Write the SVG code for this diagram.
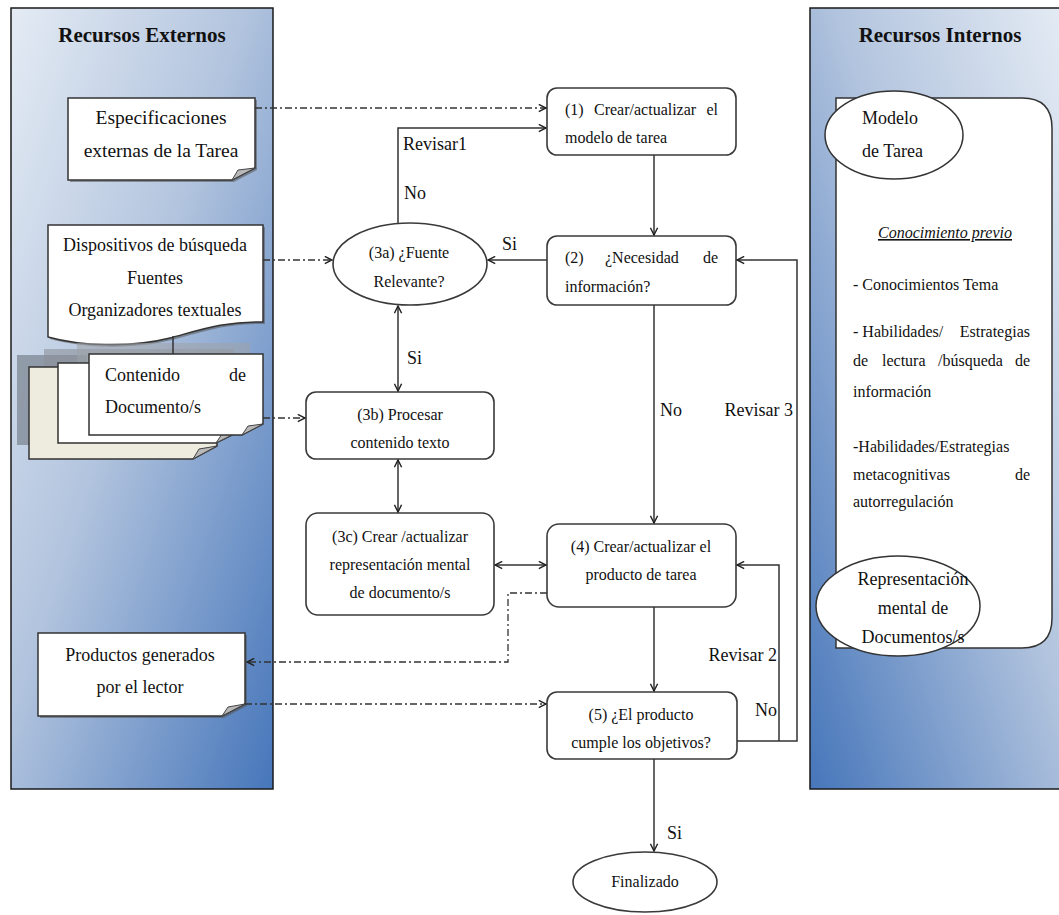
<svg xmlns="http://www.w3.org/2000/svg" width="1059" height="915" viewBox="0 0 1059 915">
<defs>
<linearGradient id="gL" x1="0" y1="0" x2="1" y2="1">
<stop offset="0" stop-color="#e4ebf4"/>
<stop offset="0.45" stop-color="#b2c4de"/>
<stop offset="1" stop-color="#4676ba"/>
</linearGradient>
<linearGradient id="gR" x1="1" y1="0" x2="0" y2="1">
<stop offset="0" stop-color="#e4ebf4"/>
<stop offset="0.45" stop-color="#b2c4de"/>
<stop offset="1" stop-color="#4676ba"/>
</linearGradient>
<marker id="arr" viewBox="0 0 10 10" refX="9" refY="5" markerWidth="9" markerHeight="9" markerUnits="userSpaceOnUse" orient="auto-start-reverse">
<path d="M1,1 L9,5 L1,9" fill="none" stroke="#222" stroke-width="1.6"/>
</marker>
<style>
.panel{stroke:#1a1a1a;stroke-width:1.5}
.doc{fill:#fff;stroke:#333;stroke-width:1.5}
.shadow{fill:#555;opacity:0.55}
.fold{fill:#b8b8b8;stroke:#444;stroke-width:1}
.box{fill:#fff;stroke:#3a3a3a;stroke-width:1.6}
.t{font-family:"Liberation Serif","Times New Roman",serif;fill:#111}
.title{font-size:21px;font-weight:bold}
.dt{font-size:18px}
.dt2{font-size:19.5px}
.nt{font-size:16px}
.lb{font-size:18px}
.rt{font-size:16px}
.c{text-anchor:middle}
.r{text-anchor:end}
.solid{fill:none;stroke:#333;stroke-width:1.5}
.dd{fill:none;stroke:#333;stroke-width:1.3;stroke-dasharray:7 3 2 3}
</style>
</defs>

<g id="panel-externos">
<rect class="panel" x="11" y="8" width="262" height="781" fill="url(#gL)"/>
<text class="t title c" x="142" y="42">Recursos Externos</text>
</g>

<g id="panel-internos">
<rect class="panel" x="810" y="8" width="255" height="781" fill="url(#gR)"/>
<text class="t title c" x="940" y="42">Recursos Internos</text>
</g>

<g id="conocimiento-previo">
<path d="M836,98 H1022 Q1052,98 1052,128 V618 Q1052,648 1022,648 H836 Z" fill="#fff" stroke="#333" stroke-width="1.5"/>
<text class="t rt c" x="945" y="238" font-style="italic" text-decoration="underline">Conocimiento previo</text>
<text class="t rt" x="853" y="290">- Conocimientos Tema</text>
<text class="t rt" y="337"><tspan x="853">- Habilidades/</tspan><tspan x="1030" text-anchor="end">Estrategias</tspan></text>
<text class="t rt" y="366"><tspan x="853">de</tspan><tspan x="882">lectura</tspan><tspan x="938">/búsqueda</tspan><tspan x="1030" text-anchor="end">de</tspan></text>
<text class="t rt" x="853" y="397">información</text>
<text class="t rt" x="853" y="452">-Habilidades/Estrategias</text>
<text class="t rt" y="480"><tspan x="853">metacognitivas</tspan><tspan x="1030" text-anchor="end">de</tspan></text>
<text class="t rt" x="853" y="507">autorregulación</text>
</g>

<g id="modelo-tarea">
<ellipse cx="894" cy="135" rx="69" ry="44" fill="#fff" stroke="#333" stroke-width="1.5"/>
<text class="t dt" x="862" y="124">Modelo</text>
<text class="t dt" x="862" y="157">de Tarea</text>
</g>

<g id="representacion-mental">
<ellipse cx="898" cy="606" rx="82" ry="50" fill="#fff" stroke="#333" stroke-width="1.5"/>
<text class="t dt c" x="913" y="585">Representación</text>
<text class="t dt c" x="913" y="614">mental de</text>
<text class="t dt c" x="913" y="643">Documentos/s</text>
</g>

<g id="especificaciones">
<path class="shadow" d="M70,100 H257 V170 L234,182 H70 Z"/>
<path class="doc" d="M68,98 H255 V168 L232,180 H68 Z"/>
<path class="fold" d="M232,180 L238,170 L255,168 Z"/>
<text class="t dt2 c" x="161" y="124">Especificaciones</text>
<text class="t dt2 c" x="161" y="157">externas de la Tarea</text>
</g>

<g id="dispositivos">
<path class="shadow" d="M50,227 H265 V324 C227,323 202,332 172,340 C132,350 82,348 50,339 Z"/>
<path class="doc" d="M48,225 H263 V322 C225,321 200,330 170,338 C130,348 80,346 48,337 Z"/>
<text class="t dt c" x="155" y="251">Dispositivos de búsqueda</text>
<text class="t dt c" x="155" y="284">Fuentes</text>
<text class="t dt c" x="155" y="316">Organizadores textuales</text>
</g>

<g id="contenido-documentos">
<rect x="17" y="355" width="70" height="90" fill="#7e8793" opacity="0.75"/>
<rect x="44" y="349" width="190" height="80" fill="#8c9199" opacity="0.6"/>
<rect x="77" y="343" width="173" height="77" fill="#9ea2a7" opacity="0.55"/>
<path d="M29,367 H217 V446 L193,459 H29 Z" fill="#eeebdf" stroke="#333" stroke-width="1.5"/>
<path class="fold" d="M193,459 L199,449 L217,446 Z"/>
<path class="doc" d="M58,363 H238 V432 L216,443 H58 Z"/>
<path class="fold" d="M216,443 L222,434 L238,432 Z"/>
<path class="doc" d="M89,354 H263 V424 L242,435 H89 Z"/>
<path class="fold" d="M242,435 L248,426 L263,424 Z"/>
<text class="t dt" y="381"><tspan x="105">Contenido</tspan><tspan x="246" text-anchor="end">de</tspan></text>
<text class="t dt" x="105" y="413">Documento/s</text>
</g>

<g id="productos">
<path class="shadow" d="M40,635 H247 V706 L224,718 H40 Z"/>
<path class="doc" d="M38,633 H245 V704 L222,716 H38 Z"/>
<path class="fold" d="M222,716 L228,707 L245,704 Z"/>
<text class="t dt c" x="140" y="661">Productos generados</text>
<text class="t dt c" x="140" y="693">por el lector</text>
</g>

<g id="n1">
<rect class="box" x="547" y="88" width="189" height="67" rx="10"/>
<text class="t nt" y="115"><tspan x="565">(1)</tspan><tspan x="594">Crear/actualizar</tspan><tspan x="718" text-anchor="end">el</tspan></text>
<text class="t nt" x="565" y="143">modelo de tarea</text>
</g>

<g id="n2">
<rect class="box" x="547" y="236" width="189" height="69" rx="10"/>
<text class="t nt" y="263"><tspan x="565">(2)</tspan><tspan x="605">¿Necesidad</tspan><tspan x="718" text-anchor="end">de</tspan></text>
<text class="t nt" x="565" y="292">información?</text>
</g>

<g id="n3a">
<ellipse cx="410" cy="264" rx="77" ry="41" fill="#fff" stroke="#3a3a3a" stroke-width="1.6"/>
<text class="t nt c" x="409" y="258">(3a) ¿Fuente</text>
<text class="t nt c" x="409" y="287">Relevante?</text>
</g>

<g id="n3b">
<rect class="box" x="306" y="392" width="188" height="67" rx="10"/>
<text class="t nt c" x="400" y="420">(3b) Procesar</text>
<text class="t nt c" x="400" y="448">contenido texto</text>
</g>

<g id="n3c">
<rect class="box" x="306" y="513" width="188" height="102" rx="12"/>
<text class="t nt c" x="400" y="542">(3c) Crear /actualizar</text>
<text class="t nt c" x="400" y="570">representación mental</text>
<text class="t nt c" x="400" y="598">de documento/s</text>
</g>

<g id="n4">
<rect class="box" x="547" y="524" width="189" height="83" rx="12"/>
<text class="t nt c" x="641" y="552">(4) Crear/actualizar el</text>
<text class="t nt c" x="641" y="580">producto de tarea</text>
</g>

<g id="n5">
<rect class="box" x="547" y="692" width="190" height="67" rx="10"/>
<text class="t nt c" x="641" y="720">(5) ¿El producto</text>
<text class="t nt c" x="641" y="748">cumple los objetivos?</text>
</g>

<g id="finalizado">
<ellipse cx="645" cy="882" rx="72" ry="30" fill="#fff" stroke="#3a3a3a" stroke-width="1.6"/>
<text class="t nt c" x="645" y="887">Finalizado</text>
</g>

<g id="connectors">
<path class="dd" d="M255,108 H546" marker-end="url(#arr)"/>
<path class="dd" d="M263,260 H332" marker-end="url(#arr)"/>
<path class="dd" d="M263,418 H305" marker-end="url(#arr)"/>
<path class="dd" d="M547,593 H508 V662 H247" marker-end="url(#arr)"/>
<path class="dd" d="M245,704 H546" marker-end="url(#arr)"/>
<path class="solid" d="M173,336 V354"/>
<path class="solid" d="M654,155 V235" marker-end="url(#arr)"/>
<path class="solid" d="M547,260 H488" marker-end="url(#arr)"/>
<path class="solid" d="M398,224 V128 H546" marker-end="url(#arr)"/>
<path class="solid" d="M398,306 V391" marker-start="url(#arr)" marker-end="url(#arr)"/>
<path class="solid" d="M398,460 V512" marker-start="url(#arr)" marker-end="url(#arr)"/>
<path class="solid" d="M495,565 H546" marker-start="url(#arr)" marker-end="url(#arr)"/>
<path class="solid" d="M654,305 V523" marker-end="url(#arr)"/>
<path class="solid" d="M654,607 V691" marker-end="url(#arr)"/>
<path class="solid" d="M654,759 V851" marker-end="url(#arr)"/>
<path class="solid" d="M737,741 H797 V260 H737" marker-end="url(#arr)"/>
<path class="solid" d="M779,741 V565 H737" marker-end="url(#arr)"/>
<text class="t lb" x="403" y="150">Revisar1</text>
<text class="t lb" x="404" y="199">No</text>
<text class="t lb" x="502" y="250">Si</text>
<text class="t lb" x="407" y="364">Si</text>
<text class="t lb" x="660" y="416">No</text>
<text class="t lb r" x="793" y="416">Revisar 3</text>
<text class="t lb r" x="777" y="661">Revisar 2</text>
<text class="t lb r" x="777" y="716">No</text>
<text class="t lb" x="667" y="839">Si</text>
</g>
</svg>
